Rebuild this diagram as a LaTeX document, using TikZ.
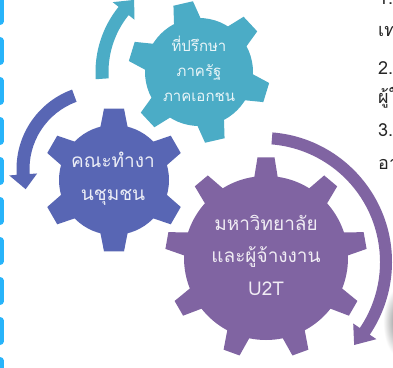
\documentclass[tikz,border=0pt]{standalone}
\usepackage{fontspec}
\newfontfamily\thai[Script=Thai]{Loma}
\definecolor{gTeal}{RGB}{75,172,198}
\definecolor{gBlue}{RGB}{88,102,180}
\definecolor{gPurple}{RGB}{128,100,162}
\definecolor{dashBlue}{RGB}{40,180,250}
% gear: cx, cy, teeth, outer r, body r, rotation, tip half-width, base half-width, colour
\newcommand\mygear[9]{%
  \begin{scope}[shift={(#1,#2)}]
    \fill[#9] (0,0) circle[radius=#5];
    \pgfmathsetmacro\gta{asin(#7/#4)}
    \pgfmathsetmacro\gba{asin(#8/(#5-2))}
    \pgfmathsetmacro\grb{#5-2}
    \foreach \k in {1,...,#3}{
      \pgfmathsetmacro\gang{#6+(\k-1)*360/#3}
      \fill[#9] (\gang-\gba:\grb) -- (\gang-\gta:#4) -- (\gang+\gta:#4) -- (\gang+\gba:\grb) -- cycle;
    }
  \end{scope}}
% circular arrow: cx, cy, centre radius, half width, start angle, head-base angle, tip angle, head half width, colour
\newcommand\myarrow[9]{%
  \begin{scope}[shift={(#1,#2)}]
    \pgfmathsetmacro\aro{#3+#4}
    \pgfmathsetmacro\ari{#3-#4}
    \pgfmathsetmacro\aho{#3+#8}
    \pgfmathsetmacro\ahi{#3-#8}
    \fill[#9] (#5:\aro) arc[start angle=#5, end angle=#6, radius=\aro]
      -- (#6:\aho) -- (#7:#3) -- (#6:\ahi) -- (#6:\ari)
      arc[start angle=#6, end angle=#5, radius=\ari] -- cycle;
  \end{scope}}
\tikzset{
  gtext/.style={font=\thai\fontsize{19}{19}\selectfont, anchor=base, inner sep=0pt},
  ttext/.style={font=\thai\fontsize{15}{15}\selectfont, anchor=base, inner sep=0pt},
  rtext/.style={font=\thai\fontsize{18}{18}\selectfont, anchor=base west, inner sep=0pt, text=black!85}
}
\begin{document}
\begin{tikzpicture}[x=1pt,y=1pt]
  \useasboundingbox (0,0) rectangle (393,367);
  \clip (0,0) rectangle (393,367);
  \fill[white] (0,0) rectangle (393,367);
  % shadow of an off-picture object
  \shade[inner color=black!55, outer color=white] (401,45) ellipse [x radius=18, y radius=36];
  % left dashed border
  \draw[dashBlue, line width=7pt, line cap=round, dash pattern=on 21pt off 19pt] (0,406.5) -- (0,-40);
  % gears
  \mygear{199}{295}{6}{71}{54}{103}{10}{14}{gTeal}
  \mygear{114}{187}{6}{72}{55}{90}{10}{14}{gBlue}
  \mygear{266}{109}{9}{101}{82}{90}{8.5}{12}{gPurple}
  % arrows
  \myarrow{101}{198}{78}{6.5}{110}{184}{195}{14}{gBlue}
  \myarrow{199}{295}{97}{6.5}{184}{141}{132}{14}{gTeal}
  \myarrow{262}{105}{124}{6}{85.4}{-34}{-42}{14}{gPurple}
  % gear texts
  \node[ttext, text=white!88!gTeal] (t1) at (199,315) {ที่ปรึกษา};
  \node[ttext, text=white!88!gTeal] (t2) at (199,290) {ภาครัฐ};
  \node[ttext, text=white!88!gTeal] (t3) at (199,265) {ภาคเอกชน};
  \node[gtext, text=white!88!gBlue] (b1) at (113,199) {คณะทำงา};
  \node[gtext, text=white!88!gBlue] (b2) at (113,166) {นชุมชน};
  \node[gtext, text=white!88!gPurple] (p1) at (266,137) {มหาวิทยาลัย};
  \node[gtext, text=white!88!gPurple] (p2) at (266,105) {และผู้จ้างงาน};
  \node[gtext, text=white!88!gPurple] (p3) at (266,72) {U2T};
  % right-hand text (cut by the frame)
  \node[rtext] (r1) at (378,362) {1.};
  \node[rtext] (r2) at (378,330) {เท};
  \node[rtext] (r3) at (378,292) {2.};
  \node[rtext] (r4) at (378,263) {ผู้ใ};
  \node[rtext] (r5) at (378,230) {3.};
  \node[rtext] (r6) at (378,197) {อา};
\end{tikzpicture}
\end{document}
